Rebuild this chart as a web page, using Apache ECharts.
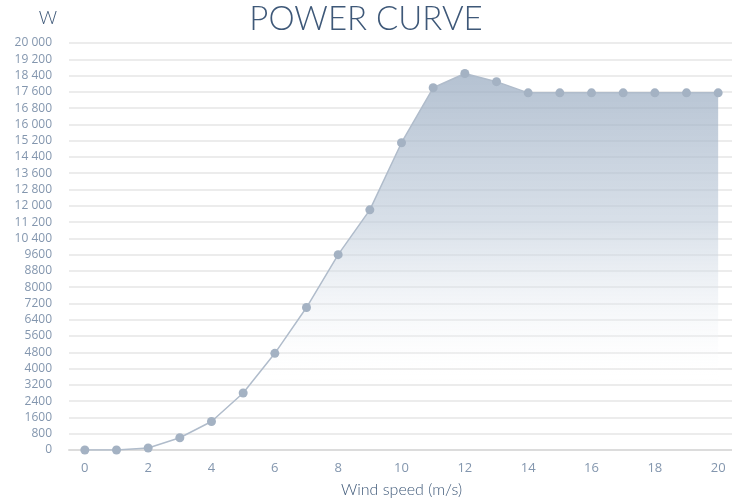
<!DOCTYPE html>
<html><head><meta charset="utf-8">
<script src="https://cdn.jsdelivr.net/npm/echarts@6/dist/echarts.min.js"></script>
<style>html,body{margin:0;padding:0;background:#fff}#c{width:732px;height:499px}</style>
</head><body><div id="c"></div>
<script>
const windSpeeds = ['0','1','2','3','4','5','6','7','8','9','10','11','12','13','14','15','16','17','18','19','20'];
const power = [0, 0, 100, 600, 1400, 2800, 4750, 7000, 9600, 11800, 15100, 17800, 18500, 18100, 17550, 17550, 17550, 17550, 17550, 17550, 17550];
const titleText = 'POWER CURVE';
const yUnit = 'W';
const xName = 'Wind speed (m/s)';

function fmtY(v){
  if (v >= 10000) { const s = String(v); return s.slice(0, s.length-3) + ' ' + s.slice(-3); }
  return String(v);
}
const chart = echarts.init(document.getElementById('c'), null, {renderer:'canvas'});
chart.setOption({
  animation:false,
  title:{text:titleText,left:'center',top:-2,textStyle:{fontFamily:'Lato',fontWeight:300,fontSize:33,color:'#3e5878'}},
  grid:{left:69,width:665,top:43,bottom:49,containLabel:false,outerBoundsMode:'none'},
  xAxis:{type:'category',data:windSpeeds,boundaryGap:true,
    name:xName,nameLocation:'middle',nameGap:32,
    nameTextStyle:{fontFamily:'Lato',fontWeight:300,fontSize:16,color:'#3e5878'},
    axisLine:{lineStyle:{color:'#dcdcdc',width:2}},
    axisTick:{interval:0,length:10,lineStyle:{color:'#e2e2e2',width:2}},
    axisLabel:{interval:1,margin:12,fontFamily:'Open Sans',fontSize:13,color:'#8396ae'},
    splitLine:{show:false}},
  yAxis:{type:'value',min:0,max:20000,interval:800,
    name:yUnit,nameLocation:'end',nameGap:16,
    nameTextStyle:{fontFamily:'Lato',fontWeight:300,fontSize:18,color:'#3e5878',align:'right',padding:[0,12,0,0]},
    axisLine:{show:false},axisTick:{show:false},
    axisLabel:{formatter:fmtY,margin:17,fontFamily:'Open Sans',fontSize:12,color:'#8396ae'},
    splitLine:{lineStyle:{color:'#ececec',width:2}}},
  series:[{type:'line',data:power,symbol:'circle',symbolSize:9,
    itemStyle:{color:'#a4b2c3'},
    lineStyle:{color:'#b0bccb',width:1.5},
    areaStyle:{color:new echarts.graphic.LinearGradient(0,0,0,1,[
      {offset:0,color:'rgba(148,167,190,1)'},
      {offset:0.4,color:'rgba(190,203,218,0.85)'},
      {offset:0.72,color:'rgba(242,245,248,0.35)'},
      {offset:0.82,color:'rgba(255,255,255,0)'},
      {offset:1,color:'rgba(255,255,255,0)'}])}
  }]
});
</script></body></html>
